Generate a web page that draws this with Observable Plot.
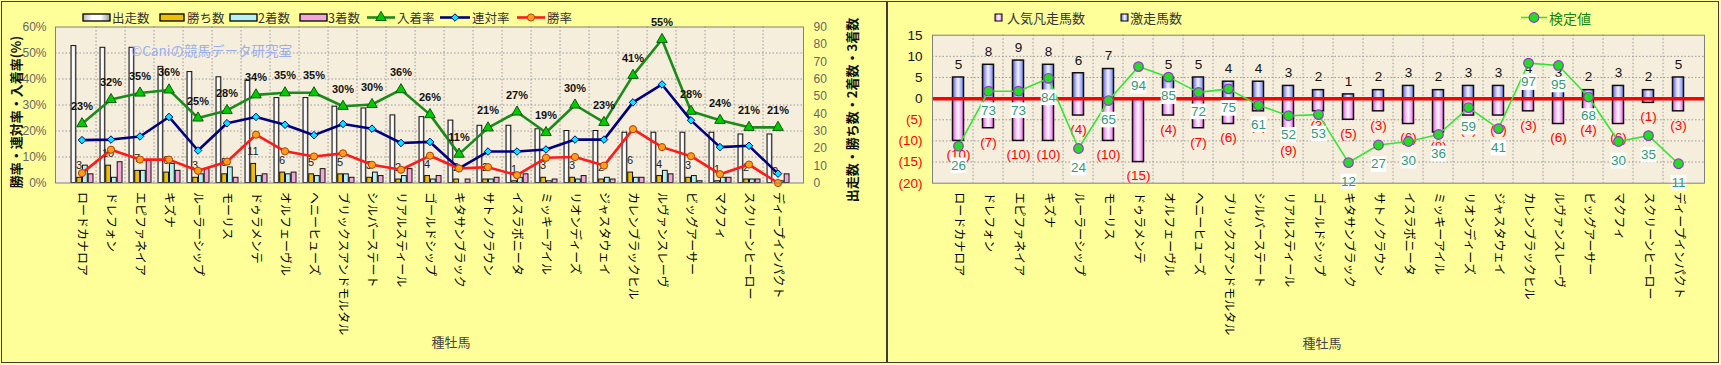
<!DOCTYPE html>
<html><head><meta charset="utf-8">
<script src="https://cdn.jsdelivr.net/npm/d3@7"></script>
<script src="https://cdn.jsdelivr.net/npm/@observablehq/plot@0.6"></script>
<style>
body{margin:0;background:#fff;font-family:"Noto Sans CJK JP","Noto Sans",sans-serif;}
#wrap{position:relative;width:1721px;height:365px;background:#ffff99;overflow:hidden}
.panel{position:absolute;top:0;height:365px}
.ov{position:absolute;white-space:nowrap;line-height:1}
.rot{transform:translate(-50%,-50%) rotate(-90deg);font-weight:bold;font-size:13px;color:#111}
.xt{transform:translate(-50%,-50%);font-size:13px;color:#444}
</style></head><body>
<svg width="0" height="0" style="position:absolute">
 <defs>
  <linearGradient id="gRuns" x1="0" x2="1" y1="0" y2="0">
   <stop offset="0" stop-color="#b8b8b8"/><stop offset="0.35" stop-color="#ffffff"/><stop offset="0.65" stop-color="#ffffff"/><stop offset="1" stop-color="#9a9a9a"/>
  </linearGradient>
  <linearGradient id="gBlue" x1="0" x2="1" y1="0" y2="0">
   <stop offset="0" stop-color="#5a5ae8"/><stop offset="0.5" stop-color="#f4f4ff"/><stop offset="1" stop-color="#6f80f0"/>
  </linearGradient>
  <linearGradient id="gPink" x1="0" x2="1" y1="0" y2="0">
   <stop offset="0" stop-color="#e850e8"/><stop offset="0.5" stop-color="#ffffff"/><stop offset="1" stop-color="#ee66ee"/>
  </linearGradient>
 </defs>
</svg>
<div id="wrap">
 <div id="left" class="panel" style="left:0;width:887px"></div>
 <div id="right" class="panel" style="left:887px;width:834px"></div>
</div>
<script>
// ---------- data ----------
const horses = ["ロードカナロア","ドレフォン","エピファネイア","キズナ","ルーラーシップ","モーリス","ドゥラメンテ","オルフェーヴル","ヘニーヒューズ","ブリックスアンドモルタル","シルバーステート","リアルスティール","ゴールドシップ","キタサンブラック","サトノクラウン","イスラボニータ","ミッキーアイル","リオンディーズ","ジャスタウェイ","カレンブラックヒル","ルヴァンスレーヴ","ビッグアーサー","マクフィ","スクリーンヒーロー","ディープインパクト"];
const runs    = [79,78,78,67,64,61,59,49,49,44,43,39,38,36,33,33,31,30,30,29,29,29,29,28,28];
const wins    = [3,10,7,6,3,5,11,6,5,5,3,2,4,2,2,1,3,3,2,6,4,3,1,2,0];
const seconds = [10,3,7,11,5,9,4,5,4,5,6,4,2,0,2,3,1,2,3,3,7,4,3,2,1];
const thirds  = [5,12,13,7,8,3,5,6,8,3,4,8,4,2,3,5,2,4,2,3,5,1,3,2,5];
const winRate    = [3.8,12.8,9.0,9.0,4.7,8.2,18.6,12.2,10.2,11.4,7.0,5.1,10.5,5.6,6.1,3.0,9.7,10.0,6.7,20.7,13.8,10.3,3.4,7.1,0];
const rentaiRate = [16.5,16.7,17.9,25.4,12.5,23.0,25.4,22.4,18.4,22.7,20.9,15.4,15.8,5.6,12.1,12.1,12.9,16.7,16.7,31.0,37.9,24.1,13.8,14.3,3.6];
const placeRate  = [22.8,32.1,34.6,35.8,25.0,27.9,33.9,34.7,34.7,29.5,30.2,35.9,26.3,11.1,21.2,27.3,19.4,30.0,23.3,41.4,55.2,27.6,24.1,21.4,21.4];
const pctTicks   = [0,10,20,30,40,50,60];
const countTicks = [0,10,20,30,40,50,60,70,80,90];

const gekisou = [5,8,9,8,6,7,0,5,5,4,4,3,2,1,2,3,2,3,3,4,3,2,3,2,5];
const bonsou  = [10,7,10,10,4,10,15,4,7,6,3,9,3,5,3,6,8,4,4,3,6,4,6,1,3];
const kentei  = [26,73,73,84,24,65,94,85,72,75,61,52,53,12,27,30,36,59,41,97,95,68,30,35,11];
const posTicks = [0,5,10,15];
const negTicks = [-5,-10,-15,-20];

const leftLegend  = ["出走数","勝ち数","2着数","3着数","入着率","連対率","勝率"];
const rightLegend = ["人気凡走馬数","激走馬数","検定値"];

// secondary-axis mappings
const K_RATE = 90 / 60;             // count units per percent (90 ↔ 60%)
const KS = 0.2767, KO = -18.44;     // 検定値 → left scale

// ---------- colours ----------
const PLOT_BG = "#f6eedc";
const C = {runs:"url(#gRuns)", wins:"#f0c000", second:"#b6f2f2", third:"#f4a6d7",
  place:"#1b8a1b", rentai:"#000080", win:"#ff1a1a",
  placeM:"#00cc00", rentaiM:"#00e8ff", winM:"#ff9c1a"};

const leftRows = horses.map((name,i)=>({name, runs:runs[i], wins:wins[i], second:seconds[i], third:thirds[i],
  win:winRate[i], rentai:rentaiRate[i], place:placeRate[i]}));
const rightRows = horses.map((name,i)=>({name, geki:gekisou[i], bon:bonsou[i], k:kentei[i]}));

const grid = {stroke:"#9a9a9a", strokeOpacity:1, strokeDasharray:"1.5,2"};

// ---------- left chart ----------
const L = {w:887, h:365, ml:55, mr:84, mt:26.5, mb:182.5};
const bwL = (L.w - L.ml - L.mr) / horses.length;
const gw = (bwL - 7) / 4;
const ins = k => ({insetLeft: 4 + k*gw, insetRight: bwL - 4 - (k+1)*gw});
const barStyle = {stroke:"#111", strokeWidth:1};

const leftPlot = Plot.plot({
  width:L.w, height:L.h, marginLeft:L.ml, marginRight:L.mr, marginTop:L.mt, marginBottom:L.mb,
  style:{background:"transparent", fontFamily:"'Noto Sans CJK JP', sans-serif", overflow:"visible"},
  x:{domain:horses, padding:0},
  y:{domain:[0,90]},
  marks:[
    Plot.frame({fill:PLOT_BG, stroke:null}),
    Plot.gridY(pctTicks.slice(1,-1).map(p=>p*K_RATE), grid),
    Plot.ruleX(horses.slice(1), {x:d=>d, dx:-bwL/2, ...grid}),
    Plot.barY(leftRows, {x:"name", y:"runs", fill:C.runs, ...barStyle, ...ins(0)}),
    Plot.barY(leftRows, {x:"name", y:"wins", fill:C.wins, ...barStyle, ...ins(1)}),
    Plot.barY(leftRows, {x:"name", y:"second", fill:C.second, ...barStyle, ...ins(2)}),
    Plot.barY(leftRows, {x:"name", y:"third", fill:C.third, ...barStyle, ...ins(3)}),
    Plot.text(leftRows, {x:"name", y:"wins", text:d=>String(d.wins), dy:-12, dx:-3, fontSize:11, fill:"#222", fontFamily:"'Liberation Sans', sans-serif"}),
    Plot.line(leftRows, {x:"name", y:d=>d.place*K_RATE, stroke:C.place, strokeWidth:2.6}),
    Plot.dot(leftRows, {x:"name", y:d=>d.place*K_RATE, symbol:"triangle", r:3.9, fill:C.placeM, stroke:"#0a5a0a", strokeWidth:1}),
    Plot.line(leftRows, {x:"name", y:d=>d.rentai*K_RATE, stroke:C.rentai, strokeWidth:2.6}),
    Plot.dot(leftRows, {x:"name", y:d=>d.rentai*K_RATE, symbol:"diamond2", r:3.4, fill:C.rentaiM, stroke:"#000080", strokeWidth:1}),
    Plot.line(leftRows, {x:"name", y:d=>d.win*K_RATE, stroke:C.win, strokeWidth:2.6}),
    Plot.dot(leftRows, {x:"name", y:d=>d.win*K_RATE, symbol:"circle", r:3.6, fill:C.winM, stroke:"#b04000", strokeWidth:1}),
    Plot.text(leftRows, {x:"name", y:d=>d.place*K_RATE, text:d=>Math.round(d.place)+"%", dy:-17, fontSize:11, fontWeight:"bold", fill:"#111", fontFamily:"'Liberation Sans', sans-serif"}),
    Plot.axisY(pctTicks.map(p=>p*K_RATE), {anchor:"left", tickFormat:d=>Math.round(d/K_RATE)+"%", tickSize:0, tickPadding:9, fontSize:12, fill:"#666", label:null, fontFamily:"'Liberation Sans', sans-serif"}),
    Plot.axisY(countTicks, {anchor:"right", tickSize:0, tickPadding:10, fontSize:12, fill:"#666", label:null, fontFamily:"'Liberation Sans', sans-serif"}),
    Plot.axisX({tickRotate:90, tickSize:0, tickPadding:9, fontSize:12, fill:"#000", textAnchor:"start", label:null}),
    Plot.frame({stroke:"#808080", strokeWidth:1})
  ]
});
document.getElementById("left").append(leftPlot);

// ---------- right chart ----------
const R = {w:834, h:365, ml:45, mr:17, mt:34.7, mb:182.3};
const bwR = (R.w - R.ml - R.mr) / horses.length;
const ky = d => d.k*KS + KO;
const rightPlot = Plot.plot({
  width:R.w, height:R.h, marginLeft:R.ml, marginRight:R.mr, marginTop:R.mt, marginBottom:R.mb,
  style:{background:"transparent", fontFamily:"'Noto Sans CJK JP', sans-serif", overflow:"visible"},
  x:{domain:horses, padding:0},
  y:{domain:[-20,15]},
  marks:[
    Plot.frame({fill:PLOT_BG, stroke:null}),
    Plot.gridY([-15,-10,-5,5,10], grid),
    Plot.ruleX(horses.slice(1), {x:d=>d, dx:-bwR/2, ...grid}),
    Plot.barY(rightRows, {x:"name", y1:0, y2:d=>-d.bon, fill:"url(#gPink)", stroke:"#111", strokeWidth:1.5, insetLeft:9.5, insetRight:9.5}),
    Plot.barY(rightRows.filter(d=>d.geki>0), {x:"name", y1:0, y2:"geki", fill:"url(#gBlue)", stroke:"#111", strokeWidth:1.5, insetLeft:9.5, insetRight:9.5}),
    Plot.ruleY([0], {stroke:"#ff0000", strokeWidth:3.5}),
    Plot.text(rightRows, {x:"name", y:"geki", text:d=>String(d.geki), dy:-13, fontSize:13.5, fill:"#111", fontFamily:"'Liberation Sans', sans-serif"}),
    Plot.text(rightRows, {x:"name", y:d=>-d.bon, text:d=>`(${d.bon})`, dy:14, fontSize:13.5, fill:"#ff0000", fontFamily:"'Liberation Sans', sans-serif"}),
    Plot.line(rightRows, {x:"name", y:ky, stroke:"#33e633", strokeWidth:1.6}),
    Plot.dot(rightRows, {x:"name", y:ky, r:4.8, fill:"#22dd22", stroke:"#9933cc", strokeWidth:1.2}),
    Plot.dot(rightRows, {x:"name", y:ky, dy:19, symbol:"square", r:8.8, fill:"#ffffff", stroke:null}),
    Plot.text(rightRows, {x:"name", y:ky, text:d=>String(d.k), dy:19, fontSize:13.5, fill:"#339977", fontFamily:"'Liberation Sans', sans-serif"}),
    Plot.axisY(posTicks, {anchor:"left", tickSize:0, tickPadding:10, fontSize:13.5, fill:"#111", label:null, fontFamily:"'Liberation Sans', sans-serif"}),
    Plot.axisY(negTicks, {anchor:"left", tickFormat:d=>`(${-d})`, tickSize:0, tickPadding:10, fontSize:13.5, fill:"#ff0000", label:null, fontFamily:"'Liberation Sans', sans-serif"}),
    Plot.axisX({tickRotate:90, tickSize:0, tickPadding:9, fontSize:12, fill:"#000", textAnchor:"start", label:null}),
    Plot.frame({stroke:"#808080", strokeWidth:1})
  ]
});
document.getElementById("right").append(rightPlot);

// ---------- overlays: legends, titles ----------
const wrap = d3.select("#wrap");
function ov(text, x, y, cls, style){
  wrap.append("div").attr("class","ov "+(cls||"")).attr("style",`left:${x}px;top:${y}px;${style||""}`).text(text);
}
// axis titles
ov("勝率・連対率・入着率(%)", 15, 112, "rot");
ov("出走数・勝ち数・2着数・3着数", 851, 110, "rot");
ov("種牡馬", 451, 341, "xt");
ov("種牡馬", 1322, 342, "xt");
// watermark
ov("©Caniの競馬データ研究室", 131, 44, "", "font-size:13.5px;color:#9aaef0");

// legend svg
const lg = wrap.append("svg").attr("width",1721).attr("height",32)
  .attr("style","position:absolute;left:0;top:0;overflow:visible")
  .attr("font-family","'Noto Sans CJK JP', sans-serif");
const cy = 17.5;
const barSw = [[83,27,C.runs],[160,24,C.wins],[230,27,C.second],[300,27,C.third]];
const textX = [112,187,258,328,397,472,547];
barSw.forEach(([x,w,f])=>{
  lg.append("rect").attr("x",x).attr("y",cy-3.5).attr("width",w).attr("height",7).attr("fill",f).attr("stroke","#000").attr("stroke-width",1.3);
});
const lineSw = [[367,28,C.place,C.placeM,d3.symbolTriangle,"#0a5a0a",48],[440,30,C.rentai,C.rentaiM,d3.symbolDiamond2,"#000080",36],[517,28,C.win,C.winM,d3.symbolCircle,"#b04000",40]];
lineSw.forEach(([x,w,s,m,sym,ms,size])=>{
  lg.append("line").attr("x1",x).attr("x2",x+w).attr("y1",cy).attr("y2",cy).attr("stroke",s).attr("stroke-width",2.6);
  lg.append("path").attr("d",d3.symbol(sym,size)()).attr("transform",`translate(${x+w/2},${cy})`).attr("fill",m).attr("stroke",ms);
});
leftLegend.forEach((t,i)=>{
  lg.append("text").attr("x",textX[i]).attr("y",cy).attr("dominant-baseline","central").attr("font-size",12.5).attr("fill","#333").text(t);
});
// right legend
const rx = 887;
lg.append("rect").attr("x",rx+108).attr("y",cy-3.5).attr("width",7).attr("height",7).attr("fill","url(#gPink)").attr("stroke","#000");
lg.append("text").attr("x",rx+120).attr("y",cy).attr("dominant-baseline","central").attr("font-size",13).attr("fill","#333").text(rightLegend[0]);
lg.append("rect").attr("x",rx+234).attr("y",cy-3.5).attr("width",7).attr("height",7).attr("fill","url(#gBlue)").attr("stroke","#000");
lg.append("text").attr("x",rx+243).attr("y",cy).attr("dominant-baseline","central").attr("font-size",13).attr("fill","#333").text(rightLegend[1]);
lg.append("line").attr("x1",rx+634).attr("x2",rx+660).attr("y1",cy).attr("y2",cy).attr("stroke","#33e633").attr("stroke-width",1.6);
lg.append("circle").attr("cx",rx+647).attr("cy",cy).attr("r",4.8).attr("fill","#22dd22").attr("stroke","#9933cc").attr("stroke-width",1.2);
lg.append("text").attr("x",rx+662).attr("y",cy).attr("dominant-baseline","central").attr("font-size",14).attr("fill","#118811").text(rightLegend[2]);

// borders
wrap.append("div").attr("style","position:absolute;left:1px;top:1px;width:1718px;height:362px;border:1.5px solid #3c3c3c;box-sizing:border-box;pointer-events:none");
wrap.append("div").attr("style","position:absolute;left:886px;top:1px;width:1.5px;height:362px;background:#3c3c3c;pointer-events:none");
</script>
</body></html>
